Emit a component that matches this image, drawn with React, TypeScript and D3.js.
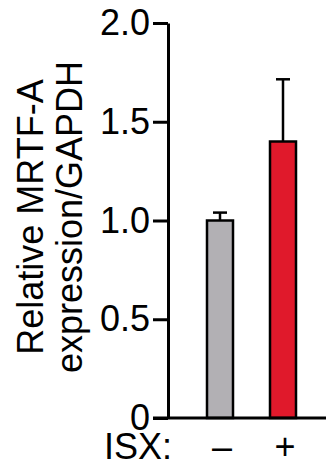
import React, { useRef, useEffect } from "react";
import * as d3 from "d3";

const groups = ["–", "+"];
const means = [1.0, 1.4];
const errors = [0.04, 0.315];
const barColors = ["#b2b0b4", "#e0192b"];
const yTicks = [0, 0.5, 1.0, 1.5, 2.0];
const yLabelLines = ["Relative MRTF-A", "expression/GAPDH"];
const xLabel = "ISX:";

export default function App() {
    const svgRef = useRef<SVGSVGElement | null>(null);

    useEffect(() => {
        if (!svgRef.current) return;
        const svg = d3.select(svgRef.current);
        svg.selectAll("*").remove();

        const font = "Helvetica, Arial, 'Liberation Sans', sans-serif";
        const axisX = 168;

        const y = d3.scaleLinear().domain([0, 2]).range([418, 23]);
        const x = d3.scalePoint<string>().domain(groups).range([220, 283]);
        const barW = 26;

        // y axis
        const yAxis = d3.axisLeft(y)
            .tickValues(yTicks)
            .tickSize(15)
            .tickSizeOuter(0)
            .tickPadding(3)
            .tickFormat(d => (+d === 0 ? "0" : d3.format(".1f")(+d)));

        const ag = svg.append("g").attr("transform", `translate(${axisX},0)`).call(yAxis);
        ag.select(".domain").attr("stroke", "#000").attr("stroke-width", 3);
        ag.selectAll(".tick line").attr("stroke", "#000").attr("stroke-width", 3);
        ag.selectAll(".tick text")
            .attr("fill", "#000")
            .style("font-family", font)
            .style("font-size", "36px");

        // error bars
        const eg = svg.append("g");
        groups.forEach((g, i) => {
            const cx = x(g)!;
            eg.append("line")
                .attr("x1", cx).attr("x2", cx)
                .attr("y1", y(means[i])).attr("y2", y(means[i] + errors[i]))
                .attr("stroke", "#000").attr("stroke-width", 2.5);
            eg.append("line")
                .attr("x1", cx - 7).attr("x2", cx + 7)
                .attr("y1", y(means[i] + errors[i])).attr("y2", y(means[i] + errors[i]))
                .attr("stroke", "#000").attr("stroke-width", 2.5);
        });

        // bars
        svg.append("g").selectAll("rect")
            .data(groups)
            .join("rect")
            .attr("x", d => x(d)! - barW / 2)
            .attr("y", (d, i) => y(means[i]))
            .attr("width", barW)
            .attr("height", (d, i) => y(0) - y(means[i]))
            .attr("fill", (d, i) => barColors[i])
            .attr("stroke", "#000")
            .attr("stroke-width", 2.5);

        // baseline
        svg.append("line")
            .attr("x1", axisX - 15).attr("x2", 326)
            .attr("y1", y(0)).attr("y2", y(0))
            .attr("stroke", "#000").attr("stroke-width", 3);

        // x group labels
        svg.append("g").selectAll("text")
            .data(groups)
            .join("text")
            .attr("x", d => x(d)! + 2)
            .attr("y", 459)
            .attr("text-anchor", "middle")
            .style("font-family", font)
            .style("font-size", "36px")
            .text(d => d);

        svg.append("text")
            .attr("x", 104)
            .attr("y", 459)
            .style("font-family", font)
            .style("font-size", "36px")
            .text(xLabel);

        // y label
        const yl = svg.append("text")
            .attr("transform", `translate(43,${(62 + 372) / 2}) rotate(-90)`)
            .attr("text-anchor", "middle")
            .style("font-family", font)
            .style("font-size", "36px");
        yLabelLines.forEach((line, i) => {
            yl.append("tspan")
                .attr("x", 0)
                .attr("dy", i === 0 ? 0 : 39)
                .text(line);
        });
    }, []);

    return (
        <svg
            ref={svgRef}
            width={326}
            height={463}
            style={{ position: "absolute", left: 0, top: 0, background: "#fff" }}
        />
    );
}
